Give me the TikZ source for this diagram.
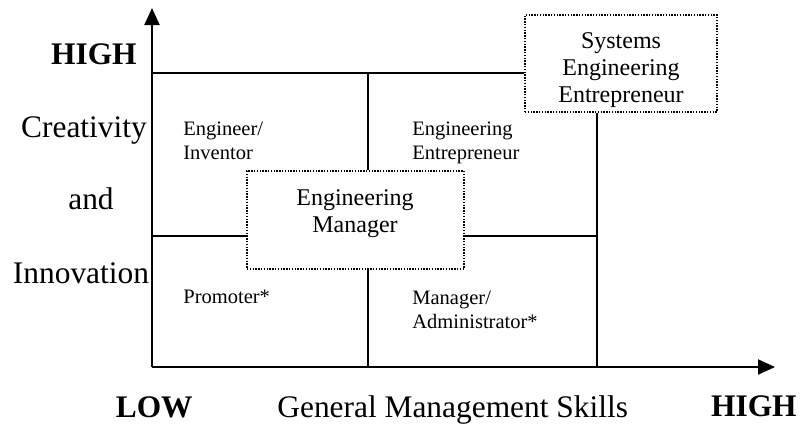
\documentclass[tikz,border=0pt]{standalone}
\usepackage{fontspec}
\setmainfont{Liberation Serif}
\usetikzlibrary{arrows.meta}

\begin{document}
\begin{tikzpicture}[x=0.5pt, y=-0.5pt,
  axis line/.style={line width=1pt, -{Triangle[length=8.5pt,width=7.5pt]}},
  grid line/.style={line width=0.8pt},
  role box/.style={draw, line width=0.7pt, dash pattern=on 0.7pt off 0.7pt, inner sep=0pt},
  big label/.style={font=\fontsize{15.7}{18}\selectfont, inner sep=0pt},
  box label/.style={font=\fontsize{12}{13.5}\selectfont, align=center, inner sep=0pt, anchor=base},
  cell label/.style={font=\fontsize{10.25}{12}\selectfont, align=left, inner sep=0pt, anchor=base west}]

\useasboundingbox (0,0) rectangle (801,424);

% axes
\coordinate (o) at (152,367);
\coordinate (ytip) at (152,8);
\coordinate (xtip) at (775,367);
\draw[axis line] (o) -- (ytip);
\draw[axis line] (o) -- (xtip);

% dotted boxes
\node[role box, minimum width=108.5pt, minimum height=49pt] (em) at (355.5,220) {};
\node[role box, minimum width=96pt, minimum height=48.5pt] (see) at (621,63.5) {};

% grid
\coordinate (tl) at (152,73);
\coordinate (mt) at (368,73);
\coordinate (mb) at (368,367);
\coordinate (ml) at (152,236);
\coordinate (mr) at (597,236);
\coordinate (rb) at (597,367);

\path[] (tl) [-, grid line] edge (tl -| see.west);
\path[] (mt) [-, grid line] edge (mt |- em.north);
\path[] (mt |- em.south) [-, grid line] edge (mb);
\path[] (ml) [-, grid line] edge (ml -| em.west);
\path[] (ml -| em.east) [-, grid line] edge (mr);
\path[] (rb |- see.south) [-, grid line] edge (rb);

% box texts (base = last line)
\node[box label] (emtext) at (355,232) {Engineering\\Manager};
\begin{scope}
\clip (see.south west) rectangle (see.north east);
\node[box label] (seetext) at (621,102) {Systems\\Engineering\\Entrepreneur};
\end{scope}

% cell texts
\node[cell label] (inventor) at (183,159) {Engineer/\\Inventor};
\node[cell label] (entre) at (412,159) {Engineering\\Entrepreneur};
\node[cell label] (promoter) at (183,303) {Promoter*};
\node[cell label] (admin) at (412,328) {Manager/\\Administrator*};

% axis texts
\node[big label, anchor=base east, font=\fontsize{15.7}{18}\selectfont\bfseries] (yhigh) at (137,64) {HIGH};
\node[big label, anchor=base] (creat) at (84,137) {Creativity};
\node[big label, anchor=base] (and) at (91,209) {and};
\node[big label, anchor=base] (innov) at (81,283) {Innovation};
\node[big label, anchor=base east, font=\fontsize{15.7}{18}\selectfont\bfseries] (low) at (193,417) {LOW};
\node[big label, anchor=base west] (gms) at (277,417) {General Management Skills};
\node[big label, anchor=base east, font=\fontsize{15.7}{18}\selectfont\bfseries] (xhigh) at (797,416) {HIGH};
\end{tikzpicture}
\end{document}
